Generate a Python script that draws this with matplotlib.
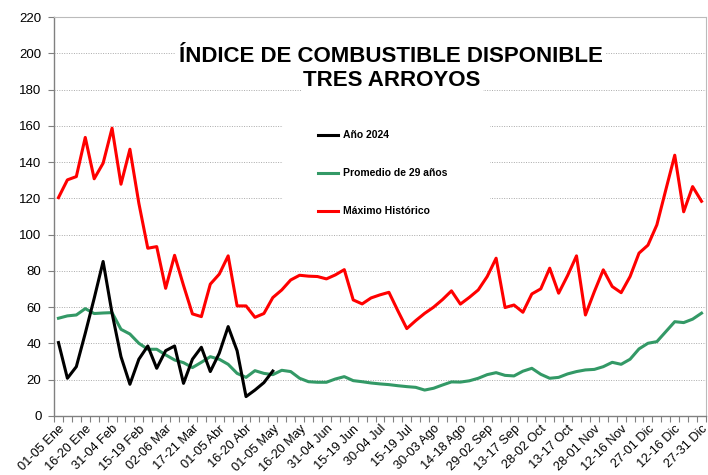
import matplotlib
matplotlib.use("Agg")
import matplotlib.pyplot as plt
from matplotlib.patches import Rectangle
from matplotlib.lines import Line2D
import numpy as np

plt.rcParams['font.family'] = ['Liberation Sans', 'DejaVu Sans']

tick_labels = ["01-05 Ene", "16-20 Ene", "31-04 Feb", "15-19 Feb", "02-06 Mar", "17-21 Mar",
               "01-05 Abr", "16-20 Abr", "01-05 May", "16-20 May", "31-04 Jun", "15-19 Jun",
               "30-04 Jul", "15-19 Jul", "30-03 Ago", "14-18 Ago", "29-02 Sep", "13-17 Sep",
               "28-02 Oct", "13-17 Oct", "28-01 Nov", "12-16 Nov", "27-01 Dic", "12-16 Dic",
               "27-31 Dic"]

maximo = [120.4, 130.2, 132, 153.6, 130.8, 139.4, 158.7, 127.8, 147.1, 117.3, 92.5, 93.4,
          70.4, 88.6, 72, 56.3, 54.8, 72.7, 78.2, 88.3, 60.7, 60.7,
          54.4, 56.5, 65.3, 69.5, 75, 77.6, 77.1, 76.9, 75.6, 77.8, 80.7, 64, 61.8, 65.1,
          66.8, 68.2, 58, 48.2, 52.6, 56.6, 60, 64.2, 69,
          61.7, 65.4, 69.5, 76.9, 87, 59.8, 61.2, 57.2, 67.3, 70.1, 81.5, 67.7, 77.4, 88.3,
          55.7, 68.6, 80.6, 71.4, 68, 76.9, 89.8, 94.2, 105.4, 124.7, 143.8, 112.6, 126.5, 118.4]

promedio = [53.9, 55.2, 55.7, 59.2, 56.5, 56.8, 57, 47.8, 45.2, 40.1, 36.8, 36.8, 33.7,
            30.9, 29.4, 26.7, 29.6, 32.7, 31.3, 28.5, 23.5, 21.3,
            25, 23.5, 22.8, 25.2, 24.5, 20.8, 18.9, 18.6, 18.6, 20.4, 21.7, 19.5, 18.9, 18.2,
            17.7, 17.3, 16.7, 16.2, 15.8, 14.3, 15.3, 17.1, 18.8,
            18.7, 19.4, 20.8, 22.8, 23.9, 22.4, 22.1, 24.7, 26.3, 23, 20.8, 21.3, 23.2, 24.5,
            25.4, 25.7, 27.2, 29.6, 28.5, 31.3, 37, 40.1, 41, 46.5, 52, 51.5, 53.4, 56.7]

anio_2024 = [40.5, 20.8, 27.2, 45.6, 64.9, 85.2, 56.7, 32.7, 17.5, 31.3, 38.6, 26.3, 36,
             38.6, 18, 31.3, 37.9, 24.5, 34.6, 49.3, 36, 10.7, 14.3, 18.4, 24.8]

series_names = ["Año 2024", "Promedio de 29 años", "Máximo Histórico"]
colors = ["#000000", "#339966", "#FF0000"]

fig = plt.figure(figsize=(7.08, 4.75), dpi=100)
ax = fig.add_axes([54/708, 1-416/475, (706-54)/708, (416-17)/475])

x_all = np.arange(len(maximo))
ax.plot(x_all, maximo, color=colors[2], lw=2.2, zorder=3)
ax.plot(x_all, promedio, color=colors[1], lw=2.2, zorder=4)
ax.plot(np.arange(len(anio_2024)), anio_2024, color=colors[0], lw=2.2, zorder=5)

ax.set_xlim(-0.5, len(maximo) - 0.5)
ax.set_ylim(0, 220)
ax.set_yticks(np.arange(0, 221, 20))
ax.yaxis.grid(True, color='#AAAAAA', linestyle=(0, (1, 1.5)), linewidth=0.7)
ax.set_axisbelow(True)

ax.set_xticks(np.arange(0, len(maximo), 3))
ax.set_xticklabels(tick_labels, rotation=45, ha='right', rotation_mode='anchor', fontsize=9.2)
ax.set_xticks(np.arange(-0.5, len(maximo), 1), minor=True)
ax.tick_params(axis='x', which='major', length=0, pad=5)
ax.tick_params(axis='x', which='minor', length=4, color='#808080', width=0.8)
ax.tick_params(axis='y', length=4, color='#808080', width=0.8, labelsize=9.5, pad=5)

for s in ['top', 'right']:
    ax.spines[s].set_color('#BBBBBB')
    ax.spines[s].set_linewidth(0.8)
for s in ['left', 'bottom']:
    ax.spines[s].set_color('#808080')
    ax.spines[s].set_linewidth(1.0)

title_font = ['Liberation Sans Narrow', 'Liberation Sans', 'DejaVu Sans']
ax.text(391/708, 1-56/475, "ÍNDICE DE COMBUSTIBLE DISPONIBLE", transform=fig.transFigure,
        ha='center', va='center', fontsize=16, fontweight='bold', family=title_font,
        bbox=dict(facecolor='white', edgecolor='none', pad=2), zorder=6)
ax.text(392/708, 1-81/475, "TRES ARROYOS", transform=fig.transFigure,
        ha='center', va='center', fontsize=16, fontweight='bold', family=title_font,
        bbox=dict(facecolor='white', edgecolor='none', pad=2), zorder=6)

# white box behind legend
ax.add_patch(Rectangle((283/708, 1-222/475), (490-283)/708, (222-115)/475,
                       transform=fig.transFigure, facecolor='white', edgecolor='none', zorder=1))

handles = [Line2D([], [], color=c, lw=2.2) for c in colors]
leg = ax.legend(handles, series_names, loc='upper left',
                bbox_to_anchor=(318/708, 1-130.5/475), bbox_transform=fig.transFigure,
                frameon=False, prop=dict(weight='bold', size=7.5),
                handlelength=1.9, handletextpad=0.5, labelspacing=2.68,
                borderpad=0, borderaxespad=0)
leg.set_zorder(7)

fig.savefig("out.png", dpi=100, facecolor='white')
